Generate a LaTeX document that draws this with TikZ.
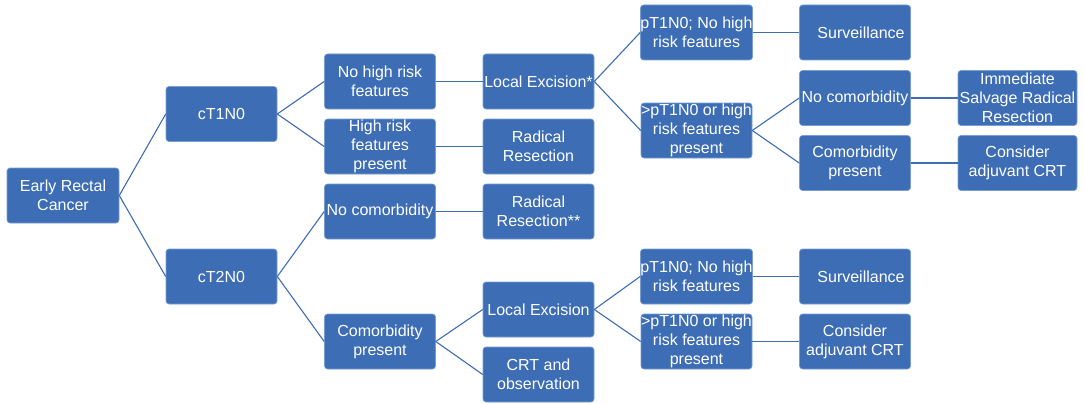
\documentclass[tikz,border=0pt]{standalone}
\usepackage{fontspec}
\setmainfont{Liberation Sans}
\definecolor{boxblue}{RGB}{61,109,180}
\definecolor{boxedge}{RGB}{120,158,212}
\definecolor{linkblue}{RGB}{62,109,180}
\tikzset{
  box/.style={rectangle, rounded corners=3pt, fill=boxblue, draw=boxedge, line width=0.6pt,
    minimum width=111pt, minimum height=55pt, inner sep=0pt, text=white, align=center,
    font=\fontsize{16}{19}\selectfont},
  widebox/.style={box, minimum width=119pt},
  link/.style={draw=linkblue, line width=1.1pt}
}
\begin{document}
\begin{tikzpicture}[x=1pt,y=-1pt]
\useasboundingbox (0,0) rectangle (1084,404);
\node[box, minimum width=112pt] (erc) at (63,195.5) {Early Rectal\\Cancer};
\node[box] (ct1) at (221.5,114) {cT1N0};
\node[box] (ct2) at (221.5,276.5) {cT2N0};
\node[box] (nohr) at (380,81.5) {No high risk\\features};
\node[box] (hr) at (380,146.5) {High risk\\features\\present};
\node[box] (nocom) at (380,211.5) {No comorbidity};
\node[box] (com) at (380,341.5) {Comorbidity\\present};
\node[box] (le1) at (538.5,81.5) {Local Excision*};
\node[box] (rr1) at (538.5,146.5) {Radical\\Resection};
\node[box] (rr2) at (538.5,211.5) {Radical\\Resection**};
\node[box] (le2) at (538.5,309.5) {Local Excision};
\node[box] (crt) at (538.5,374.5) {CRT and\\observation};
\node[box] (p1a) at (696.5,32.5) {pT1N0; No high\\risk features};
\node[box] (p2a) at (696.5,130.5) {>pT1N0 or high\\risk features\\present};
\node[box] (surv1) at (855,32.5) {\hspace*{12pt}Surveillance};
\node[box] (nocomR) at (855,98) {No comorbidity};
\node[box] (comR) at (855,163) {Comorbidity\\present};
\node[widebox] (imm) at (1017.5,98) {Immediate\\Salvage Radical\\Resection};
\node[widebox] (cons1) at (1017.5,163) {Consider\\adjuvant CRT};
\node[box] (p1b) at (696.5,276.5) {pT1N0; No high\\risk features};
\node[box] (p2b) at (696.5,341.5) {>pT1N0 or high\\risk features\\present};
\node[box] (surv2) at (855,276.5) {\hspace*{12pt}Surveillance};
\node[box] (cons2) at (855,341.5) {Consider\\adjuvant CRT};
\path[link] (erc.east) -- (ct1.west);
\path[link] (erc.east) -- (ct2.west);
\path[link] (ct1.east) -- (nohr.west);
\path[link] (ct1.east) -- (hr.west);
\path[link] (ct2.east) -- (nocom.west);
\path[link] (ct2.east) -- (com.west);
\path[link] (nohr.east) -- (le1.west);
\path[link] (hr.east) -- (rr1.west);
\path[link] (nocom.east) -- (rr2.west);
\path[link] (com.east) -- (le2.west);
\path[link] (com.east) -- (crt.west);
\path[link] (le1.east) -- (p1a.west);
\path[link] (le1.east) -- (p2a.west);
\path[link] (p1a.east) -- (surv1.west);
\path[link] (p2a.east) -- (nocomR.west);
\path[link] (p2a.east) -- (comR.west);
\path[link] (nocomR.east) -- (imm.west);
\path[link] (comR.east) -- (cons1.west);
\path[link] (le2.east) -- (p1b.west);
\path[link] (le2.east) -- (p2b.west);
\path[link] (p1b.east) -- (surv2.west);
\path[link] (p2b.east) -- (cons2.west);
\end{tikzpicture}
\end{document}
